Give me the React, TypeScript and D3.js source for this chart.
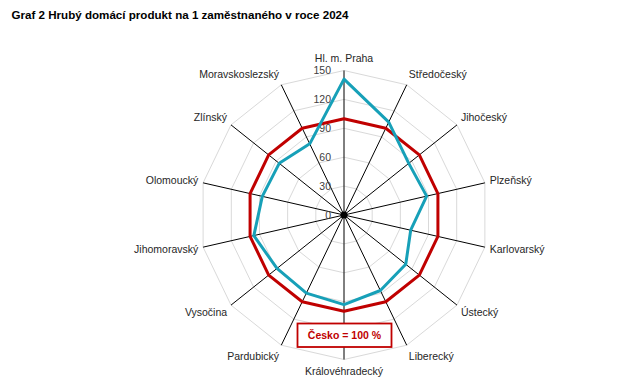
import React from "react";
import * as d3 from "d3";

const title = "Graf 2 Hrubý domácí produkt na 1 zaměstnaného v roce 2024";
const categories = [
  "Hl. m. Praha", "Středočeský", "Jihočeský", "Plzeňský", "Karlovarský", "Ústecký",
  "Liberecký", "Královéhradecký", "Pardubický", "Vysočina", "Jihomoravský",
  "Olomoucký", "Zlínský", "Moravskoslezský",
];
const regionValues = [141, 107, 86, 88, 71, 82, 87, 93, 90, 89, 96, 87, 86, 82];
const czechiaValues = [100, 100, 100, 100, 100, 100, 100, 100, 100, 100, 100, 100, 100, 100];
const ticks = [0, 30, 60, 90, 120, 150];
const boxLabel = "Česko = 100 %";

const W = 643, H = 384;
const cx = 344, cy = 215, R = 144.5;
const FONT = "'Liberation Sans', Arial, sans-serif";
const RED = "#C00000";
const TEAL = "#17A0B8";

export default function App() {
  const n = categories.length;
  const angle = d3.scaleLinear().domain([0, n]).range([0, 2 * Math.PI]);
  const r = d3.scaleLinear().domain([0, 150]).range([0, R]);
  const pt = (i: number, v: number): [number, number] => {
    const a = angle(i);
    return [cx + r(v) * Math.sin(a), cy - r(v) * Math.cos(a)];
  };
  const line = d3.line<[number, number]>().curve(d3.curveLinearClosed);
  const series = (vals: number[]) => line(vals.map((v, i) => pt(i, v))) || "";

  return (
    <svg width={W} height={H} style={{ position: "absolute", left: 0, top: 0, background: "#fff" }}>
      <text x={11.5} y={19} fontFamily={FONT} fontWeight="bold" fontSize={11.6} fill="#000">{title}</text>
      {ticks.filter((t) => t > 0).map((t) => (
        <path key={t} d={series(categories.map(() => t))} fill="none" stroke="#d9d9d9" strokeWidth={1} />
      ))}
      {categories.map((c, i) => {
        const [x, y] = pt(i, 150);
        return <line key={c} x1={cx} y1={cy} x2={x} y2={y} stroke="#000" strokeWidth={1} />;
      })}
      <circle cx={cx} cy={cy} r={3.6} fill="#000" />
      {ticks.map((t) => (
        <text key={t} x={cx - 13} y={cy - r(t)} dy="0.35em" textAnchor="end" fontFamily={FONT} fontSize={10.5} fill="#404040">{t}</text>
      ))}
      <path d={series(czechiaValues)} fill="none" stroke={RED} strokeWidth={3} strokeLinejoin="round" />
      <path d={series(regionValues)} fill="none" stroke={TEAL} strokeWidth={3} strokeLinejoin="round" />
      {categories.map((c, i) => {
        const a = angle(i);
        const s = Math.sin(a), co = Math.cos(a);
        const [x, y] = pt(i, 150);
        const lx = x + 5 * s;
        const ly = y - 5 * co - 7 * co;
        const anchor = Math.abs(s) < 0.05 ? "middle" : s > 0 ? "start" : "end";
        return (
          <text key={c} x={lx} y={ly} dy="0.35em" textAnchor={anchor} fontFamily={FONT} fontSize={10.5} fill="#262626">{c}</text>
        );
      })}
      <rect x={297.5} y={323.5} width={94} height={23.5} fill="#fff" stroke={RED} strokeWidth={1.8} />
      <text x={344.5} y={335.5} dy="0.35em" textAnchor="middle" fontFamily={FONT} fontWeight="bold" fontSize={10.5} fill={RED}>{boxLabel}</text>
    </svg>
  );
}
